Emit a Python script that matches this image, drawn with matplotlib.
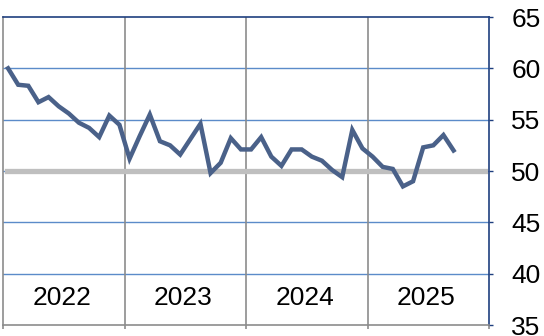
import matplotlib.pyplot as plt
import numpy as np

plt.rcParams['font.family'] = ['Liberation Sans', 'DejaVu Sans']

# Monthly index values, Jan 2022 - Sep 2025
values_2022 = [60.0, 58.4, 58.3, 56.7, 57.2, 56.3, 55.6, 54.7, 54.2, 53.3, 55.4, 54.5]
values_2023 = [51.2, 53.4, 55.5, 52.9, 52.5, 51.6, 53.1, 54.6, 49.8, 50.8, 53.2, 52.1]
values_2024 = [52.1, 53.3, 51.4, 50.5, 52.1, 52.1, 51.4, 51.0, 50.1, 49.4, 54.0, 52.2]
values_2025 = [51.4, 50.4, 50.2, 48.5, 49.0, 52.3, 52.5, 53.5, 52.0]
years = ["2022", "2023", "2024", "2025"]
y_ticks = [35, 40, 45, 50, 55, 60, 65]

values = values_2022 + values_2023 + values_2024 + values_2025
months = np.arange(len(values)) + 0.5

fig = plt.figure(figsize=(5.44, 3.36), dpi=100)
ax = fig.add_axes([3 / 544, 1 - 325 / 336, 486 / 544, 308 / 336])

# horizontal grid
for v in [40, 45, 50, 55, 60]:
    ax.axhline(v, color="#5B8BC9", lw=1.0, zorder=1)

# year separators
for k in range(1, len(years)):
    ax.axvline(12 * k, color="#8C8C8C", lw=1.2, zorder=1)

# reference line at 50
ax.axhline(50, xmin=0.008, xmax=0.992, color="#BFBFBF", lw=3.8, zorder=2)

ax.plot(months, values, color="#4A6189", lw=3.2, solid_joinstyle="miter", zorder=3)

for k, yr in enumerate(years):
    ax.text(12 * k + 5.8, 37.6, yr, ha="center", va="center", fontsize=19, color="black")

ax.set_xlim(0, 48)
ax.set_ylim(35, 65)
ax.set_xticks([0, 12, 24, 36, 48])
ax.set_xticklabels([])
ax.tick_params(axis="x", length=3, color="#8C8C8C", width=1.2)

ax.yaxis.tick_right()
ax.set_yticks(y_ticks)
ax.tick_params(axis="y", length=3, color="#1F3F7F", width=1.0, pad=13, labelsize=19)
for lab in ax.get_yticklabels():
    lab.set_horizontalalignment("left")

ax.spines["top"].set_color("#1F3F7F")
ax.spines["right"].set_color("#1F3F7F")
ax.spines["left"].set_color("#8C8C8C")
ax.spines["bottom"].set_color("#8C8C8C")
for s in ax.spines.values():
    s.set_linewidth(1.2)

fig.savefig("out.png", dpi=100)
